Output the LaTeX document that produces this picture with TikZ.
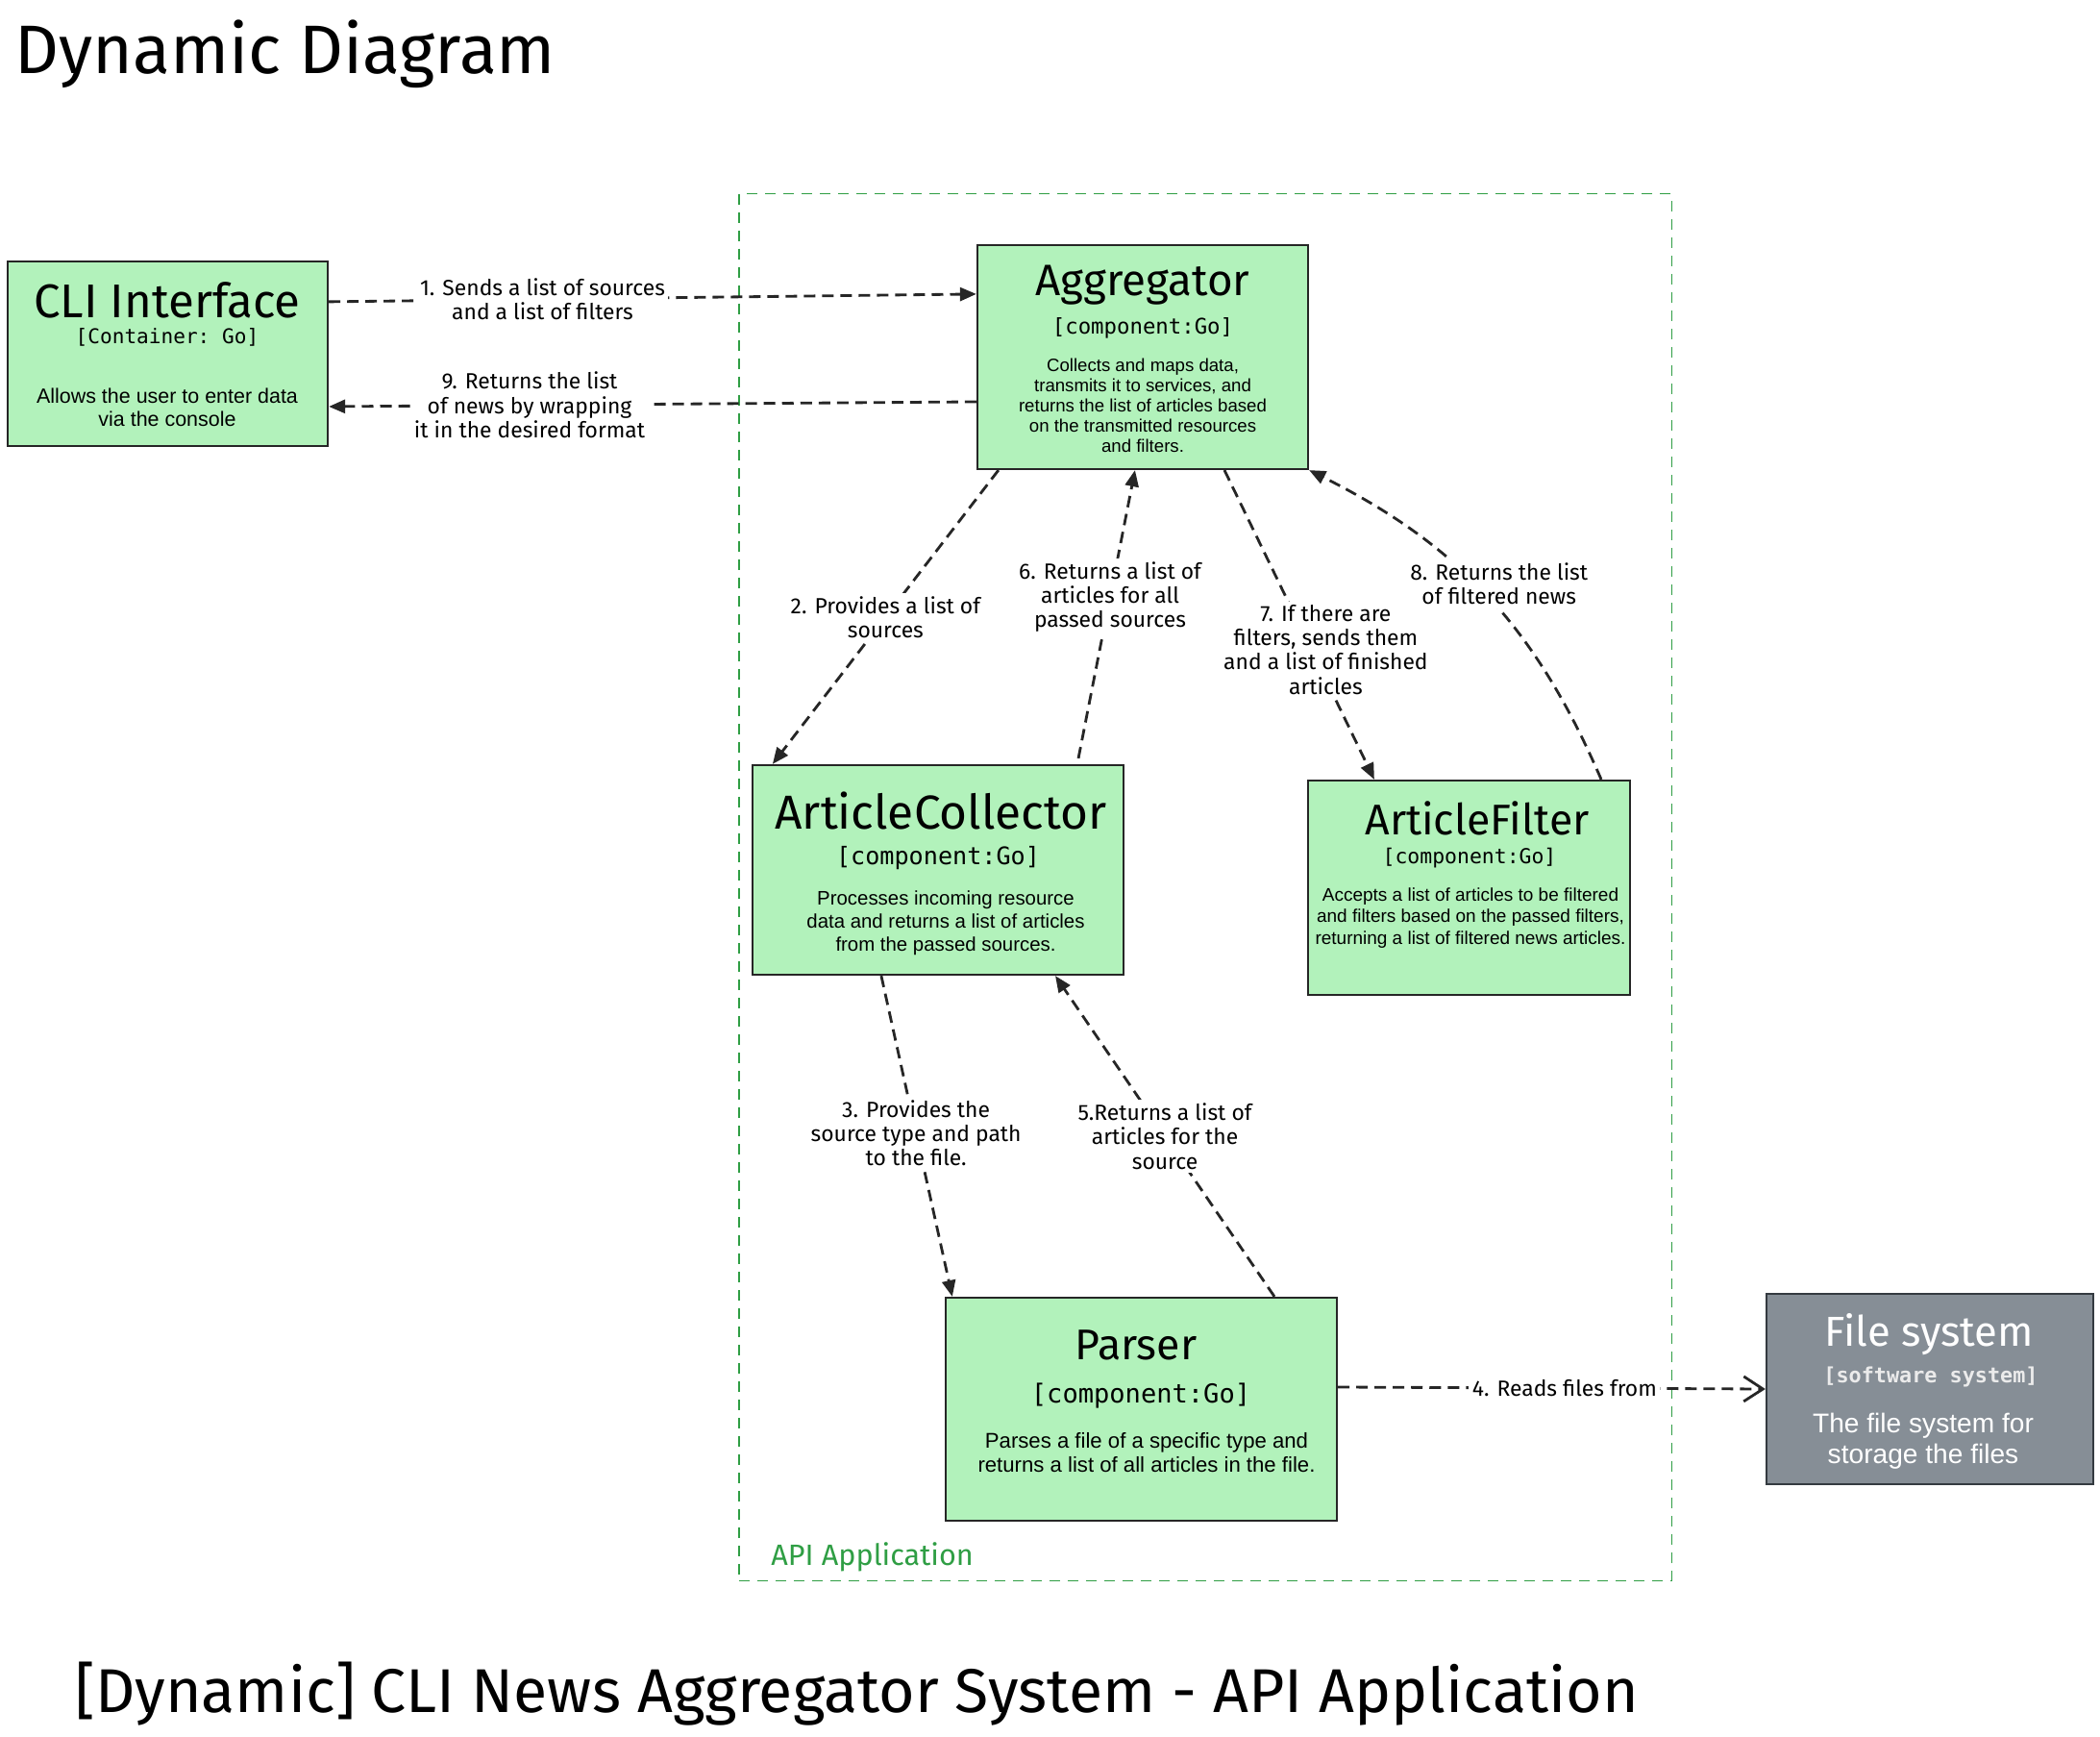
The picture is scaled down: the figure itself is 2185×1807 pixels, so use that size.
\documentclass[tikz,border=0pt]{standalone}
\usepackage{fontspec}
\setmainfont{Liberation Sans}
\setmonofont{DejaVu Sans Mono}
\newfontfamily\handfont{Fira Sans}
\usetikzlibrary{arrows.meta}
\definecolor{boxgreen}{HTML}{B2F2BB}
\definecolor{edgegreen}{HTML}{2F9E44}
\definecolor{sysgrey}{HTML}{868E96}
\definecolor{sysline}{HTML}{343A40}
\newcommand{\setsz}[2]{\fontsize{#1}{#2}\selectfont}

\begin{document}
\begin{tikzpicture}[x=0.01cm,y=-0.01cm,>={Triangle[length=0.17cm,width=0.14cm]}]
    \tikzstyle{component}=[draw=black!85,line width=0.6pt,fill=boxgreen,inner sep=0pt]
    \tikzstyle{system}=[component,fill=sysgrey,draw=sysline]
    \tikzstyle{boundary}=[draw=edgegreen,dash pattern=on 0.11cm off 0.08cm,line width=0.45pt]
    \tikzstyle{flow}=[->,draw=black!85,line width=0.8pt,dash pattern=on 0.12cm off 0.07cm]
    \tikzstyle{step label}=[fill=white,align=center,inner sep=1pt,font=\handfont\setsz{6.5}{7.2}]
    \tikzstyle{boxtitle}=[inner sep=0pt]
    \tikzstyle{tech}=[inner sep=0pt]
    \tikzstyle{descr}=[inner sep=0pt,align=center]

    \useasboundingbox (0,0) rectangle (2185,1807);

    % Titles
    \node[anchor=base west,font=\handfont\setsz{20.3}{24}] (diagram-title) at (3,77) {Dynamic Diagram};
    \node[anchor=base west,font=\handfont\setsz{18.3}{22}] (view-title) at (66,1781)
        {[Dynamic] CLI News Aggregator System - API Application};

    % Draw the application boundary
    \node[boundary,minimum width=9.7cm,minimum height=14.42cm] (api) at (1254,923) {};
    \node[anchor=base west,text=edgegreen,font=\handfont\setsz{8.7}{10}] (api-label) at (790,1628) {API Application};

    % Draw the container and the components
    \node[component,minimum width=3.33cm,minimum height=1.92cm] (cli) at (174.5,368) {};
    \node[component,minimum width=3.44cm,minimum height=2.33cm] (agg) at (1189,371.5) {};
    \node[component,minimum width=3.86cm,minimum height=2.18cm] (col) at (976,905) {};
    \node[component,minimum width=3.35cm,minimum height=2.23cm] (fil) at (1528.5,923.5) {};
    \node[component,minimum width=4.07cm,minimum height=2.32cm] (par) at (1187.5,1466) {};
    \node[system,minimum width=3.40cm,minimum height=1.98cm] (fs) at (2008,1445) {};

    % Texts of the boxes
    \node[boxtitle,font=\handfont\setsz{14}{16}] (cli-name) at (174,312) {CLI Interface};
    \node[tech,font=\ttfamily\setsz{6}{7}] (cli-tech) at (174,351) {[Container: Go]};
    \node[descr,font=\setsz{6.1}{6.7}] (cli-desc) at (174,424) {Allows the user to enter data\\via the console};

    \node[boxtitle,font=\handfont\setsz{13}{15}] (agg-name) at (1189,297) {Aggregator};
    \node[tech,font=\ttfamily\setsz{6.35}{7}] (agg-tech) at (1189,341) {[component:Go]};
    \node[descr,font=\setsz{5.3}{6}] (agg-desc) at (1189,422)
        {Collects and maps data,\\transmits it to services, and\\returns the list of articles based\\on the transmitted resources\\and filters.};

    \node[boxtitle,font=\handfont\setsz{14.1}{16}] (col-name) at (979,843) {ArticleCollector};
    \node[tech,font=\ttfamily\setsz{7.15}{8}] (col-tech) at (976,893) {[component:Go]};
    \node[descr,font=\setsz{5.8}{6.8}] (col-desc) at (984,960)
        {Processes incoming resource\\data and returns a list of articles\\from the passed sources.};

    \node[boxtitle,font=\handfont\setsz{12.7}{15}] (fil-name) at (1537,851) {ArticleFilter};
    \node[tech,font=\ttfamily\setsz{6.1}{7}] (fil-tech) at (1529,893) {[component:Go]};
    \node[descr,font=\setsz{5.4}{6.4}] (fil-desc) at (1530,955)
        {Accepts a list of articles to be filtered\\and filters based on the passed filters,\\returning a list of filtered news articles.};

    \node[boxtitle,font=\handfont\setsz{12.7}{15}] (par-name) at (1182,1399) {Parser};
    \node[tech,font=\ttfamily\setsz{7.7}{9}] (par-tech) at (1187,1452) {[component:Go]};
    \node[descr,font=\setsz{6.3}{7.1}] (par-desc) at (1193,1511)
        {Parses a file of a specific type and\\returns a list of all articles in the file.};

    \node[boxtitle,text=white,font=\handfont\setsz{12.4}{15}] (fs-name) at (2007,1388) {File system};
    \node[tech,text=black!8,font=\ttfamily\bfseries\setsz{6.2}{7}] (fs-tech) at (2009,1432) {[software system]};
    \node[descr,text=white,font=\setsz{8}{9}] (fs-desc) at (2001,1499) {The file system for\\storage the files};

    % Connect the boxes, one numbered step after the other
    \draw[flow] ([yshift=-0.43cm]cli.north east) -- node[step label,pos=0.33]
        {1. Sends a list of sources\\and a list of filters} ([yshift=-0.52cm]agg.north west);
    \draw[flow] ([xshift=0.23cm]agg.south west) -- node[step label,pos=0.5]
        {2. Provides a list of\\sources} ([xshift=0.22cm]col.north west);
    \draw[flow] ([xshift=1.35cm]col.south west) -- node[step label,pos=0.49]
        {3. Provides the\\source type and path\\to the file.} ([xshift=0.08cm]par.north west);
    \draw[flow,-{Straight Barb[length=0.2cm,width=0.26cm]}] ([yshift=0.23cm]par.east) -- node[step label,pos=0.53]
        {4. Reads files from} (fs.west);
    \draw[flow] ([xshift=3.43cm]par.north west) -- node[step label,pos=0.5]
        {5.Returns a list of\\articles for the\\source} ([xshift=3.16cm]col.south west);
    \draw[flow] ([xshift=3.40cm,yshift=0.06cm]col.north west) -- node[step label,pos=0.56]
        {6. Returns a list of\\articles for all\\passed sources} ([xshift=1.65cm]agg.south west);
    \draw[flow] ([xshift=2.58cm]agg.south west) -- node[step label,pos=0.58,xshift=0.15cm]
        {7. If there are\\filters, sends them\\and a list of finished\\articles} ([xshift=0.70cm]fil.north west);
    \draw[flow] ([xshift=3.06cm]fil.north west) to[bend right=20] node[step label,pos=0.55,xshift=0.28cm,yshift=-0.03cm]
        {8. Returns the list\\of filtered news} (agg.south east);
    \draw[flow] ([yshift=-1.64cm]agg.north west) -- node[step label,pos=0.69]
        {9. Returns the list\\of news by wrapping\\it in the desired format} ([yshift=-1.52cm]cli.north east);
\end{tikzpicture}
\end{document}
